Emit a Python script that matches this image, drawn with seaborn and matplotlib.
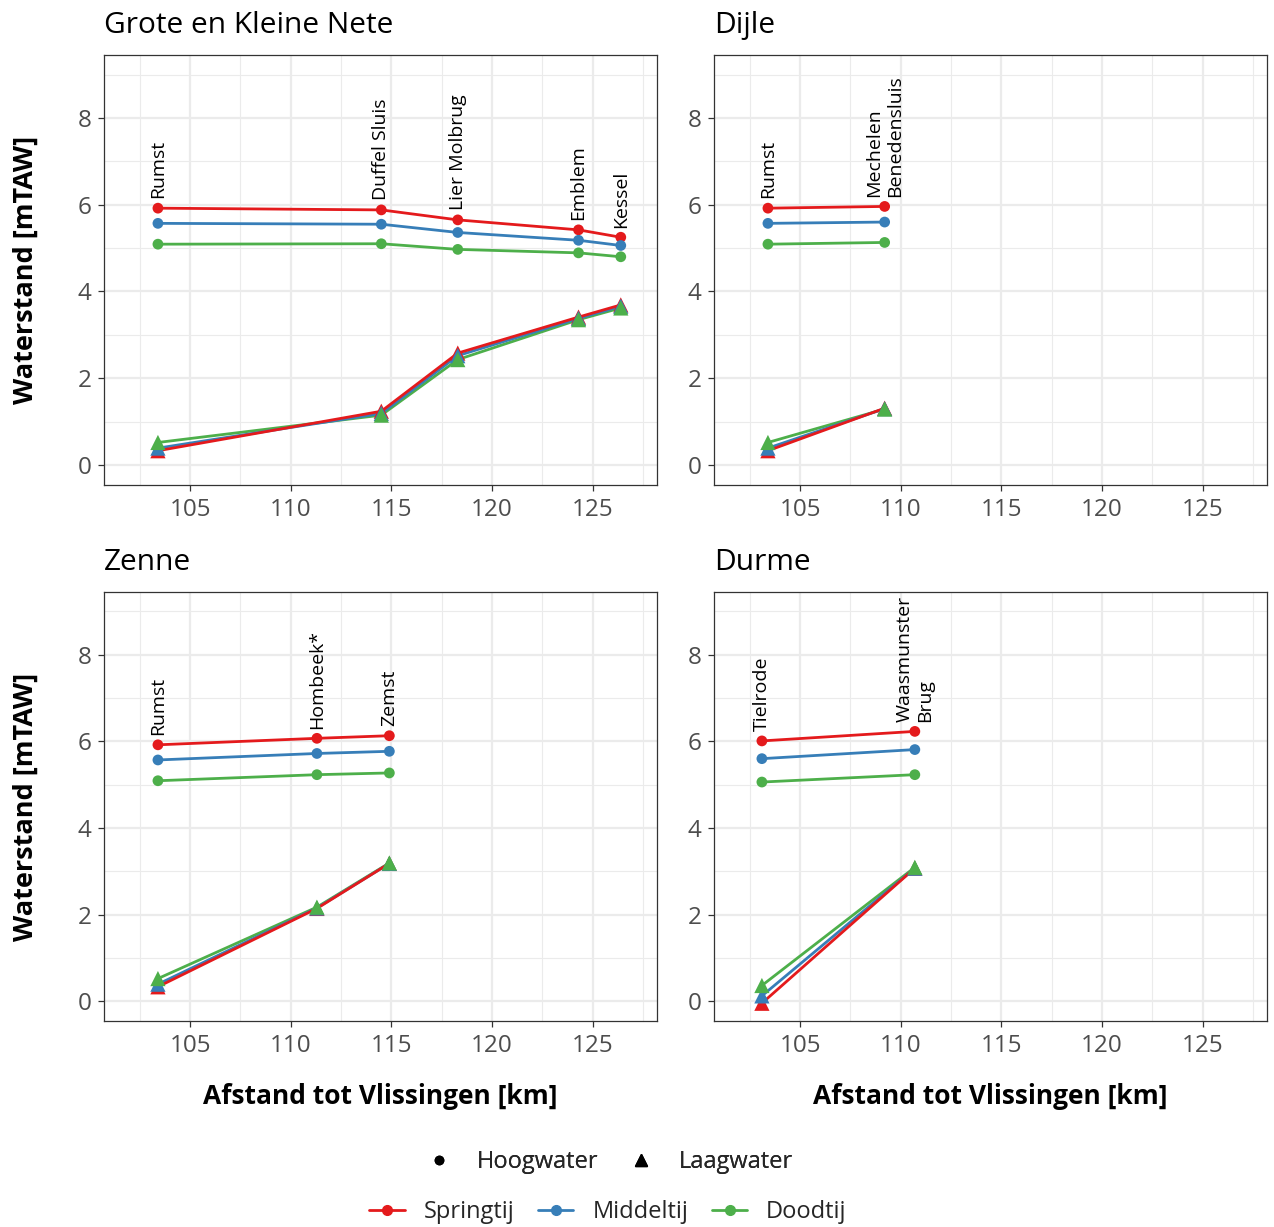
import matplotlib
matplotlib.use("Agg")
import matplotlib.pyplot as plt
from matplotlib.lines import Line2D
from matplotlib.ticker import MultipleLocator
import numpy as np
import pandas as pd
import seaborn as sns

# --- Data: distance to Vlissingen [km] and water levels [mTAW] ---
nete_stations = ["Rumst", "Duffel Sluis", "Lier Molbrug", "Emblem", "Kessel"]
nete_km = [103.4, 114.5, 118.3, 124.3, 126.4]
nete_hw_spring = [5.92, 5.88, 5.65, 5.42, 5.25]
nete_hw_middel = [5.57, 5.55, 5.36, 5.18, 5.06]
nete_hw_dood = [5.09, 5.10, 4.97, 4.89, 4.80]
nete_lw_spring = [0.33, 1.24, 2.58, 3.41, 3.69]
nete_lw_middel = [0.39, 1.19, 2.52, 3.38, 3.66]
nete_lw_dood = [0.52, 1.15, 2.43, 3.35, 3.62]

dijle_stations = ["Rumst", "Mechelen\nBenedensluis"]
dijle_km = [103.4, 109.2]
dijle_hw_spring = [5.92, 5.96]
dijle_hw_middel = [5.57, 5.60]
dijle_hw_dood = [5.09, 5.13]
dijle_lw_spring = [0.33, 1.31]
dijle_lw_middel = [0.39, 1.30]
dijle_lw_dood = [0.52, 1.29]

zenne_stations = ["Rumst", "Hombeek*", "Zemst"]
zenne_km = [103.4, 111.3, 114.9]
zenne_hw_spring = [5.92, 6.07, 6.13]
zenne_hw_middel = [5.57, 5.72, 5.77]
zenne_hw_dood = [5.09, 5.23, 5.27]
zenne_lw_spring = [0.33, 2.14, 3.18]
zenne_lw_middel = [0.39, 2.15, 3.18]
zenne_lw_dood = [0.52, 2.17, 3.19]

durme_stations = ["Tielrode", "Waasmunster\nBrug"]
durme_km = [103.1, 110.7]
durme_hw_spring = [6.01, 6.23]
durme_hw_middel = [5.60, 5.81]
durme_hw_dood = [5.06, 5.23]
durme_lw_spring = [-0.05, 3.07]
durme_lw_middel = [0.12, 3.07]
durme_lw_dood = [0.36, 3.09]

rivers = ["Grote en Kleine Nete", "Dijle", "Zenne", "Durme"]
tides = ["Springtij", "Middeltij", "Doodtij"]
kinds = ["Hoogwater", "Laagwater"]
tide_colors = {"Springtij": "#E41A1C", "Middeltij": "#377EB8", "Doodtij": "#4DAF4A"}

river_data = {
    "Grote en Kleine Nete": (nete_stations, nete_km,
                             [nete_hw_spring, nete_hw_middel, nete_hw_dood],
                             [nete_lw_spring, nete_lw_middel, nete_lw_dood]),
    "Dijle": (dijle_stations, dijle_km,
              [dijle_hw_spring, dijle_hw_middel, dijle_hw_dood],
              [dijle_lw_spring, dijle_lw_middel, dijle_lw_dood]),
    "Zenne": (zenne_stations, zenne_km,
              [zenne_hw_spring, zenne_hw_middel, zenne_hw_dood],
              [zenne_lw_spring, zenne_lw_middel, zenne_lw_dood]),
    "Durme": (durme_stations, durme_km,
              [durme_hw_spring, durme_hw_middel, durme_hw_dood],
              [durme_lw_spring, durme_lw_middel, durme_lw_dood]),
}

rows = []
for river, (stations, km, hw, lw) in river_data.items():
    for tide, hw_vals, lw_vals in zip(tides, hw, lw):
        for st, x, h, l in zip(stations, km, hw_vals, lw_vals):
            rows.append(dict(river=river, station=st, km=x, tide=tide,
                             kind="Hoogwater", value=h))
            rows.append(dict(river=river, station=st, km=x, tide=tide,
                             kind="Laagwater", value=l))
df = pd.DataFrame(rows)

# --- Styling ---
sns.set_theme(style="white")
plt.rcParams["font.family"] = ["Open Sans", "DejaVu Sans"]

W, H = 1274, 1227
fig = plt.figure(figsize=(W / 100, H / 100), dpi=100)

panel_px = {
    "Grote en Kleine Nete": (104, 55, 657, 485),
    "Dijle": (714, 55, 1267, 485),
    "Zenne": (104, 592, 657, 1021),
    "Durme": (714, 592, 1267, 1021),
}

for river in rivers:
    x0, y0, x1, y1 = panel_px[river]
    ax = fig.add_axes([x0 / W, 1 - y1 / H, (x1 - x0) / W, (y1 - y0) / H])
    sub = df[df.river == river]

    ax.set_xlim(100.72, 128.2)
    ax.set_ylim(-0.46, 9.45)
    ax.xaxis.set_major_locator(MultipleLocator(5))
    ax.xaxis.set_minor_locator(MultipleLocator(2.5))
    ax.yaxis.set_major_locator(MultipleLocator(2))
    ax.yaxis.set_minor_locator(MultipleLocator(1))
    ax.grid(which="major", color="#EBEBEB", lw=1.6, zorder=0)
    ax.grid(which="minor", color="#EBEBEB", lw=0.8, zorder=0)
    ax.set_axisbelow(True)

    # connecting lines, one per tide and high/low water
    for kind in kinds:
        ksub = sub[sub.kind == kind]
        sns.lineplot(data=ksub, x="km", y="value", hue="tide",
                     hue_order=tides[::-1], palette=tide_colors,
                     estimator=None, errorbar=None, sort=True,
                     lw=2.0, legend=False, ax=ax)
    # markers
    sns.scatterplot(data=sub[sub.kind == "Hoogwater"], x="km", y="value",
                    hue="tide", hue_order=tides, palette=tide_colors,
                    marker="o", s=60, linewidth=0, legend=False, ax=ax,
                    zorder=4)
    sns.scatterplot(data=sub[sub.kind == "Laagwater"], x="km", y="value",
                    hue="tide", hue_order=tides, palette=tide_colors,
                    marker="^", s=120, linewidth=0, legend=False, ax=ax,
                    zorder=4)

    # station names above the spring-tide high water
    hw_top = sub[(sub.kind == "Hoogwater") & (sub.tide == "Springtij")]
    for _, r in hw_top.iterrows():
        ax.annotate(r.station, (r.km, r.value), xytext=(0, 7),
                    textcoords="offset points", rotation=90,
                    ha="center", va="bottom", multialignment="left",
                    fontsize=14, color="black")

    ax.set_title(river, loc="left", fontsize=21.5, pad=15.5, color="black")
    ax.set_xlabel("")
    ax.set_ylabel("")
    ax.tick_params(axis="both", which="major", labelsize=17.5,
                   labelcolor="#4D4D4D", color="#333333", length=4,
                   width=0.9, bottom=True, left=True, direction="out")
    ax.tick_params(axis="x", which="major", pad=5)
    ax.tick_params(axis="y", which="major", pad=5)
    ax.tick_params(which="minor", length=0)
    for s in ax.spines.values():
        s.set_color("#333333")
        s.set_linewidth(0.9)

    if river in ("Grote en Kleine Nete", "Zenne"):
        ax.set_ylabel("Waterstand [mTAW]", fontsize=19.5, fontweight="bold",
                      labelpad=28, color="black")
    if river in ("Zenne", "Durme"):
        ax.set_xlabel("Afstand tot Vlissingen [km]", fontsize=19,
                      fontweight="bold", labelpad=18, color="black")

# --- Legends ---
shape_handles = [
    Line2D([], [], ls="none", marker="o", color="black", markersize=6),
    Line2D([], [], ls="none", marker="^", color="black", markersize=8),
]
leg1 = fig.legend(shape_handles, kinds, loc="center", ncol=2,
                  bbox_to_anchor=(610 / W, 1 - 1162 / H), frameon=False,
                  fontsize=17, handlelength=1.0, handletextpad=1.1,
                  columnspacing=1.3)
tide_handles = [Line2D([], [], color=tide_colors[t], lw=2.0, marker="o",
                       markersize=7) for t in tides]
leg2 = fig.legend(tide_handles, tides, loc="center", ncol=3,
                  bbox_to_anchor=(608 / W, 1 - 1212 / H), frameon=False,
                  fontsize=17, handlelength=1.5, handletextpad=0.8,
                  columnspacing=1.0)
fig.add_artist(leg1)

fig.savefig("out.png", dpi=100)
